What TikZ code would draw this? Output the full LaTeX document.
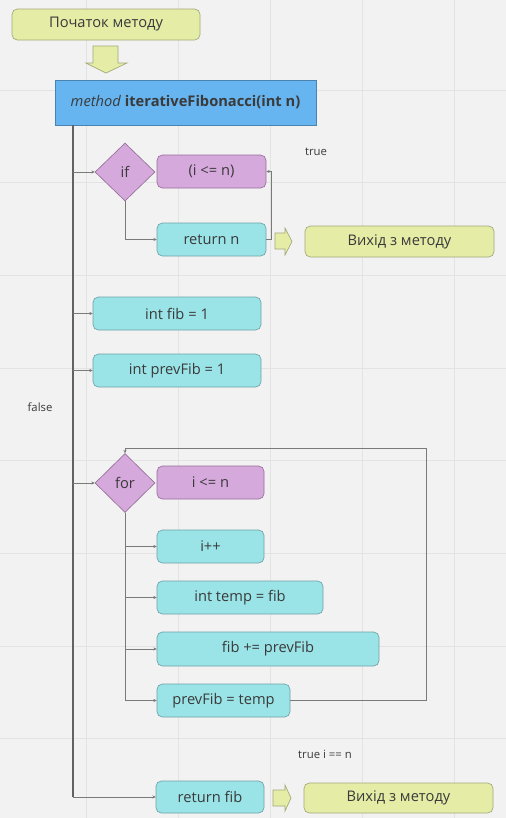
\documentclass[tikz,border=0pt]{standalone}
\usepackage{fontspec}
\setmainfont{Open Sans}
\usetikzlibrary{shapes.geometric,arrows.meta}

\definecolor{bgcol}{HTML}{F2F2F2}
\definecolor{gridcol}{HTML}{E3E3E3}
\definecolor{txtcol}{HTML}{3A3A3A}
\definecolor{yelfill}{HTML}{E5ECA6}
\definecolor{yeldraw}{HTML}{A3A878}
\definecolor{bluefill}{HTML}{66B5F0}
\definecolor{bluedraw}{HTML}{4A83B0}
\definecolor{purpfill}{HTML}{D6A9DC}
\definecolor{purpdraw}{HTML}{967099}
\definecolor{cyanfill}{HTML}{9AE3E7}
\definecolor{cyandraw}{HTML}{6FA3A6}
\definecolor{linecol}{HTML}{7A7A7A}

\tikzset{every picture/.style={line width=0.75pt},
	sz/.style 2 args={minimum width=#1*0.75pt, minimum height=#2*0.75pt, inner sep=0pt},
	txt/.style={text=txtcol, font=\fontsize{11}{13}\selectfont},
	yelbox/.style={txt, draw=yeldraw, fill=yelfill, rounded corners=4pt, line width=0.5pt},
	purpbox/.style={txt, draw=purpdraw, fill=purpfill, rounded corners=4pt, line width=0.5pt},
	cyanbox/.style={txt, draw=cyandraw, fill=cyanfill, rounded corners=4pt, line width=0.5pt},
	decide/.style={txt, diamond, draw=purpdraw, fill=purpfill, line width=0.5pt},
	conn/.style={draw=linecol, line width=0.5pt, -{Stealth[length=2.5pt,width=2.5pt]}},
	small/.style={text=txtcol, font=\fontsize{8.5}{10}\selectfont, inner sep=0pt},
	blockarr/.style={draw=yeldraw, fill=yelfill, line width=0.5pt}
}

\begin{document}
\begin{tikzpicture}[x=0.75pt,y=0.75pt,yscale=-1,xscale=1]
	\useasboundingbox (0,0) rectangle (506,818);
	\fill[bgcol] (0,0) rectangle (506,818);
	
	%grid
	\foreach \gx in {86,178,270,362,454} \draw[gridcol, line width=0.6pt] (\gx,0) -- (\gx,818);
	\foreach \gy in {90,182,275,368,460,553,646,738} \draw[gridcol, line width=0.6pt] (0,\gy) -- (506,\gy);
	
	%start and method
	\node[yelbox, sz={188}{31}] (start) at (106,24.5) {Початок методу};
	\draw[blockarr] (93,46) -- (118,46) -- (118,63) -- (127,63) -- (106,73) -- (86,63) -- (93,63) -- cycle;
	\node[txt, draw=bluedraw, fill=bluefill, sz={261}{45}] (method) at (185.5,102.5) {\textit{method} \textbf{iterativeFibonacci(int n)}};
	\coordinate (trunk) at (73,125);
	
	%if
	\node[decide, sz={60}{58}] (ifnode) at (125,172) {if};
	\node[purpbox, sz={109}{33}] (cond) at (211.5,171.5) {(i <= n)};
	\node[cyanbox, sz={109}{33}] (retn) at (211.5,239.5) {return n};
	\draw[blockarr] (275,233) -- (285,233) -- (285,228) -- (292,241.5) -- (285,255) -- (285,249) -- (275,249) -- cycle;
	\node[yelbox, sz={189}{31}] (exitA) at (399.5,241.5) {Вихід з методу};
	\node[small] (truelbl) at (316,152) {true};
	
	%init
	\node[cyanbox, sz={168}{33}] (fib) at (177,313.5) {int fib = 1};
	\node[cyanbox, sz={168}{33}] (prev) at (177,370.5) {int prevFib = 1};
	\node[small] (falselbl) at (40,407) {false};
	
	%for
	\node[decide, sz={60}{59}] (fornode) at (125,483) {for};
	\node[purpbox, sz={107}{33}] (loopcond) at (210.5,482.5) {i <= n};
	\node[cyanbox, sz={107}{33}] (inc) at (210.5,546.5) {i++};
	\node[cyanbox, sz={166}{33}] (temp) at (240,597.5) {int temp = fib};
	\node[cyanbox, sz={222}{34}] (sum) at (268,649) {fib += prevFib};
	\node[cyanbox, sz={133}{33}] (upd) at (223.5,700.5) {prevFib = temp};
	\coordinate (loopc) at (426,448);
	\node[small] (endlbl) at (325,754) {true i == n};
	
	%end
	\node[cyanbox, sz={108}{32}] (retfib) at (210,797) {return fib};
	\draw[blockarr] (273,790) -- (285,790) -- (285,785) -- (291,798) -- (285,811) -- (285,806) -- (273,806) -- cycle;
	\node[yelbox, sz={189}{30}] (exitB) at (398.5,798) {Вихід з методу};
	
	%connectors
	\draw[draw=linecol!80!black, line width=1.5pt] (trunk) -- (trunk |- retfib.west);
	\foreach \dst in {ifnode, fib, prev, fornode, retfib}
		\draw[conn] (trunk |- \dst.west) -- (\dst.west);
	\draw[conn] (ifnode.south) |- (retn.west);
	\draw[conn] (retn.east) -- ++(5,0) |- (cond.east);
	\foreach \dst in {inc, temp, sum, upd}
		\draw[conn] (fornode.south) |- (\dst.west);
	\draw[conn] (upd.east) -| (loopc) -| (fornode.north);
	
\end{tikzpicture}
\end{document}
